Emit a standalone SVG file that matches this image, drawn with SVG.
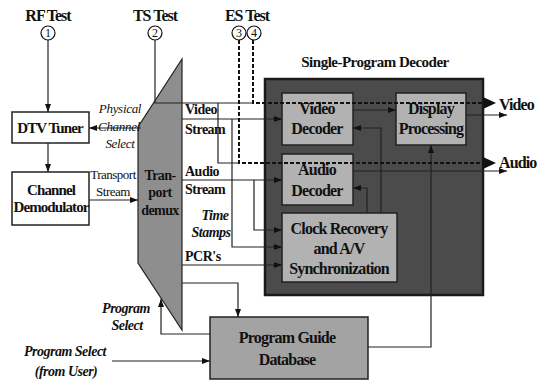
<svg xmlns="http://www.w3.org/2000/svg" width="547" height="383" viewBox="0 0 547 383">
<defs>
<marker id="ah" markerWidth="8" markerHeight="6" refX="8" refY="3" orient="auto" markerUnits="userSpaceOnUse">
<path d="M0,0 L8,3 L0,6 z" fill="#111"/>
</marker>
<style>
.t{font-family:"Liberation Serif","Times New Roman",serif;fill:#111}
.b{font-weight:bold}
.h{font-size:16px;font-weight:bold;letter-spacing:-1px}
.bx{font-size:16px;font-weight:bold;letter-spacing:-0.8px;text-anchor:middle}
.lb{font-size:14px;font-weight:bold;letter-spacing:-0.5px}
.it{font-style:italic;font-size:13px;letter-spacing:-0.3px}
.bi{font-style:italic;font-weight:bold;font-size:14px;letter-spacing:-0.5px}
.ln{fill:none;stroke:#222;stroke-width:1.2}
.da{fill:none;stroke:#111;stroke-width:2;stroke-dasharray:4 2}
.box{stroke:#222;stroke-width:1.5}
.cir{fill:#fff;stroke:#111;stroke-width:1.2}
.num{font-family:"Liberation Serif",serif;font-size:12px;text-anchor:middle;fill:#111}
</style>
</defs>
<rect width="547" height="383" fill="#fff"/>

<g id="test-points">
<text class="t h" x="48" y="21" text-anchor="middle">RF Test</text>
<circle class="cir" cx="48" cy="33" r="7"/><text class="num" x="48" y="37">1</text>
<text class="t h" x="155" y="21" text-anchor="middle">TS Test</text>
<circle class="cir" cx="155" cy="33" r="7"/><text class="num" x="155" y="37">2</text>
<text class="t h" x="247" y="21" text-anchor="middle">ES Test</text>
<circle class="cir" cx="239" cy="33" r="7"/><text class="num" x="239" y="37">3</text>
<circle class="cir" cx="254" cy="33" r="7"/><text class="num" x="254" y="37">4</text>
</g>

<g id="dtv-tuner">
<rect class="box" x="12" y="112" width="77" height="31" fill="#fff"/>
<text class="t" x="50" y="133" font-size="15" font-weight="bold" letter-spacing="-0.9" text-anchor="middle">DTV Tuner</text>
</g>

<g id="channel-demodulator">
<rect class="box" x="12" y="172" width="77" height="53" fill="#fff"/>
<text class="t" x="51" y="195" font-size="15" font-weight="bold" letter-spacing="-0.9" text-anchor="middle">Channel</text>
<text class="t" x="51" y="212" font-size="15" font-weight="bold" letter-spacing="-0.9" text-anchor="middle">Demodulator</text>
</g>

<g id="transport-demux">
<polygon points="182,59 182,330 138,263 138,127" fill="#8e8e8e" stroke="#222" stroke-width="1.2"/>
<text class="t b" x="160" y="180" font-size="14" letter-spacing="-0.6" text-anchor="middle">Tran-</text>
<text class="t b" x="160" y="197" font-size="14" letter-spacing="-0.6" text-anchor="middle">port</text>
<text class="t b" x="160" y="215" font-size="14" letter-spacing="-0.6" text-anchor="middle">demux</text>
</g>

<g id="single-program-decoder">
<text class="t" x="375" y="67" font-size="15" font-weight="bold" letter-spacing="-0.5" text-anchor="middle">Single-Program Decoder</text>
<rect x="265" y="79" width="218" height="216" fill="#4b4b4b" stroke="#1a1a1a" stroke-width="2.5"/>
</g>

<g id="video-decoder">
<rect class="box" x="282" y="93" width="71" height="52" fill="#b2b2b2"/>
<text class="t bx" x="317" y="114">Video</text>
<text class="t bx" x="317" y="134">Decoder</text>
</g>

<g id="display-processing">
<rect class="box" x="396" y="93" width="70" height="52" fill="#b2b2b2"/>
<text class="t bx" x="431" y="114">Display</text>
<text class="t bx" x="431" y="134">Processing</text>
</g>

<g id="audio-decoder">
<rect class="box" x="282" y="154" width="71" height="51" fill="#b2b2b2"/>
<text class="t bx" x="317" y="175">Audio</text>
<text class="t bx" x="317" y="196">Decoder</text>
</g>

<g id="clock-recovery">
<rect class="box" x="282" y="213" width="115" height="69" fill="#b2b2b2"/>
<text class="t bx" x="339" y="234">Clock Recovery</text>
<text class="t bx" x="339" y="254">and A/V</text>
<text class="t bx" x="339" y="274">Synchronization</text>
</g>

<g id="program-guide-database">
<rect class="box" x="210" y="317" width="158" height="62" fill="#a3a3a3"/>
<text class="t bx" x="287" y="343">Program Guide</text>
<text class="t bx" x="287" y="365">Database</text>
</g>

<g id="connectors">
<path class="ln" d="M48,40 V112" marker-end="url(#ah)"/>
<path class="ln" d="M48,143 V172" marker-end="url(#ah)"/>
<path class="ln" d="M89,200 H138" marker-end="url(#ah)"/>
<path class="ln" d="M141,128 H89" marker-end="url(#ah)"/>
<path class="ln" d="M155,40 V103 H253"/>
<path class="ln" d="M218,103 V163 H239"/>
<path class="ln" d="M182,119 H282" marker-end="url(#ah)"/>
<path class="ln" d="M232,119 V247 H282" marker-end="url(#ah)"/>
<path class="ln" d="M182,180 H282" marker-end="url(#ah)"/>
<path class="ln" d="M254,180 V230 H282" marker-end="url(#ah)"/>
<path class="ln" d="M182,265 H282" marker-end="url(#ah)"/>
<path class="ln" d="M182,283 H238 V317" marker-end="url(#ah)"/>
<path class="ln" d="M210,334 H161 V299" marker-end="url(#ah)"/>
<path class="ln" d="M112,361 H210" marker-end="url(#ah)"/>
<path class="ln" d="M368,347 H431 V145" marker-end="url(#ah)"/>
<path class="ln" d="M353,110 H396" marker-end="url(#ah)"/>
<path class="ln" d="M381,213 V128 H353" marker-end="url(#ah)"/>
<path class="ln" d="M367,213 V188 H353" marker-end="url(#ah)"/>
<path class="ln" d="M466,115 H507" marker-end="url(#ah)"/>
<path class="ln" d="M353,171 H507" marker-end="url(#ah)"/>
<path class="da" d="M239,40 V163 H484"/>
<path class="da" d="M253,40 V103 H484"/>
<polygon points="483,97 496,103 483,109" fill="#111"/>
<polygon points="483,157 496,163 483,169" fill="#111"/>
</g>

<g id="labels">
<text class="t it" x="120" y="113" text-anchor="middle">Physical</text>
<text class="t it" x="119" y="131" text-anchor="middle">Channel</text>
<text class="t it" x="120" y="148" text-anchor="middle">Select</text>
<text class="t" x="113" y="179" font-size="13" letter-spacing="-0.5" text-anchor="middle">Transport</text>
<text class="t" x="113" y="196" font-size="13" letter-spacing="-0.5" text-anchor="middle">Stream</text>
<text class="t lb" x="185" y="114">Video</text>
<text class="t lb" x="185" y="134">Stream</text>
<text class="t lb" x="185" y="176">Audio</text>
<text class="t lb" x="185" y="194">Stream</text>
<text class="t bi" x="215" y="220" text-anchor="middle">Time</text>
<text class="t bi" x="211" y="237" text-anchor="middle">Stamps</text>
<text class="t lb" x="185" y="261">PCR's</text>
<text class="t bi" x="126" y="313" text-anchor="middle">Program</text>
<text class="t bi" x="127" y="330" text-anchor="middle">Select</text>
<text class="t bi" x="65" y="356" text-anchor="middle">Program Select</text>
<text class="t bi" x="66" y="376" text-anchor="middle">(from User)</text>
<text class="t" x="499" y="110" font-size="16" font-weight="bold" letter-spacing="-0.9">Video</text>
<text class="t" x="499" y="168" font-size="16" font-weight="bold" letter-spacing="-0.9">Audio</text>
</g>
</svg>
